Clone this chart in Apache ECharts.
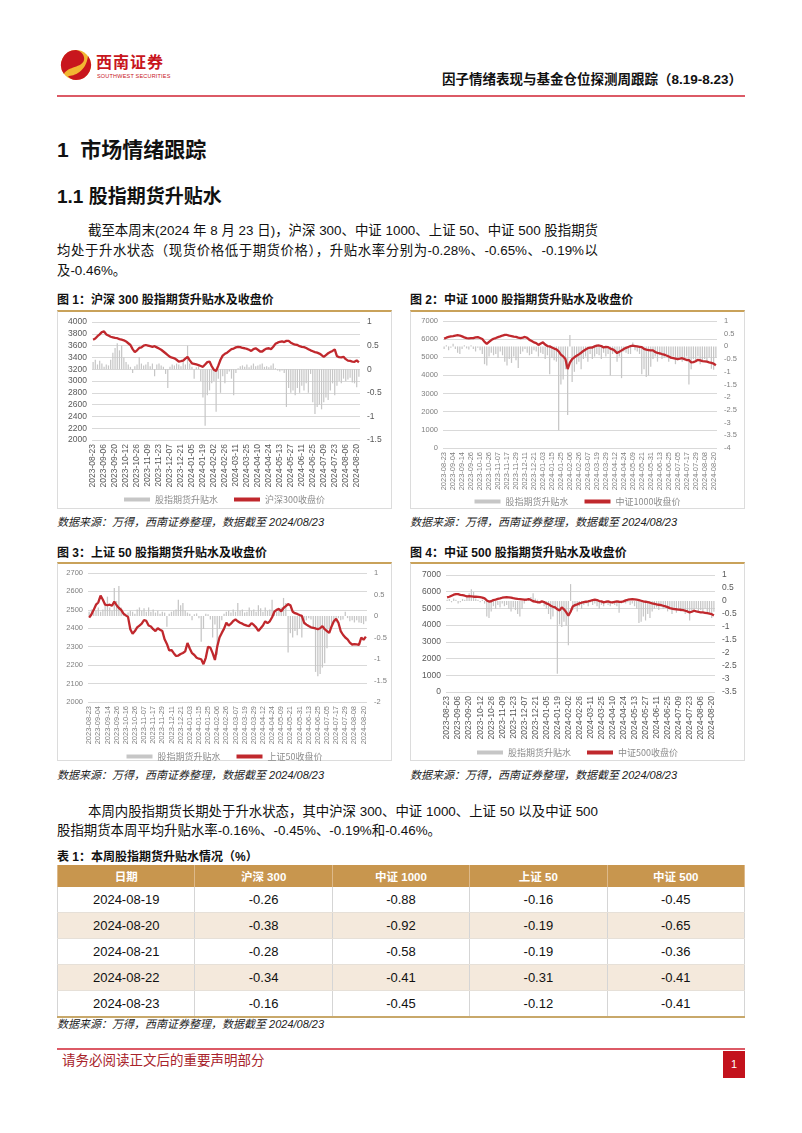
<!DOCTYPE html>
<html><head><meta charset="utf-8">
<script src="https://cdn.jsdelivr.net/npm/echarts@6/dist/echarts.min.js"></script>
<style>
html,body{margin:0;padding:0;background:#fff;}
body{width:802px;height:1133px;position:relative;overflow:hidden;font-family:"Liberation Sans","Noto Sans CJK SC",sans-serif;color:#111;}
.abs{position:absolute;white-space:nowrap;}
.figt{font-size:12px;font-weight:bold;line-height:14px;}
.src{font-size:11px;font-style:italic;color:#222;line-height:14px;}
.frame{position:absolute;border:1px solid #dcdcdc;border-top:2px solid #c9a25a;box-sizing:border-box;}
.chart{position:absolute;}
.body{font-size:13.4px;line-height:18px;}
.jl{text-align:justify;text-align-last:justify;}
table{border-collapse:collapse;table-layout:fixed;width:688px;font-size:13px;}
td,th{text-align:center;padding:0;border-left:1px solid #d5d5d5;border-right:1px solid #d5d5d5;}
th{background:#c8964e;color:#fff;height:22px;font-size:11.5px;font-weight:bold;border-left:1px solid #ddb98a;border-right:1px solid #ddb98a;}
td{height:25px;border-bottom:1px solid #e6e0d8;}
tr.alt td{background:#f4e9dc;}
tr.last td{border-bottom:2px solid #c8a86a;}
</style></head>
<body>
<!-- header -->
<svg class="abs" style="left:60px;top:48px" width="32" height="34" viewBox="0 0 32 34">
<circle cx="16" cy="17" r="15" fill="#f2b632"/>
<path d="M16 2 A15 15 0 0 0 4 26 C8 18 22 20 24 12 C25 7 21 3 16 2 Z" fill="#c8161d"/>
<path d="M28 8 A15 15 0 0 1 16 32 C12 32 9 30 8 28 C14 28 26 24 28 8 Z" fill="#c8161d"/>
</svg>
<div class="abs" style="left:96px;top:54px;font-size:16px;font-weight:bold;color:#c8161d;letter-spacing:1px;line-height:18px;">西南证券</div>
<div class="abs" style="left:97px;top:73px;font-size:5.5px;color:#c8161d;line-height:7px;letter-spacing:0.2px;">SOUTHWEST SECURITIES</div>
<div class="abs" style="right:60px;top:71px;font-size:13.5px;font-weight:bold;line-height:18px;">因子情绪表现与基金仓位探测周跟踪（8.19-8.23）</div>
<div class="abs" style="left:57px;top:95px;width:688px;height:2px;background:#dc5a66;"></div>

<div class="abs" style="left:57px;top:137px;font-size:21px;font-weight:bold;line-height:26px;">1&nbsp; 市场情绪跟踪</div>
<div class="abs" style="left:57px;top:185px;font-size:19px;font-weight:bold;line-height:24px;">1.1 股指期货升贴水</div>

<div class="abs body jl" style="left:88px;top:222px;width:510px;">截至本周末(2024 年 8 月 23 日)，沪深 300、中证 1000、上证 50、中证 500 股指期货</div>
<div class="abs body jl" style="left:57px;top:242px;width:541px;">均处于升水状态（现货价格低于期货价格），升贴水率分别为-0.28%、-0.65%、-0.19%以</div>
<div class="abs body" style="left:57px;top:262px;">及-0.46%。</div>

<!-- figure titles -->
<div class="abs figt" style="left:57px;top:293px;">图 1：沪深 300 股指期货升贴水及收盘价</div>
<div class="abs figt" style="left:410px;top:293px;">图 2：中证 1000 股指期货升贴水及收盘价</div>
<div class="frame" style="left:57px;top:310px;width:335px;height:199px;"></div>
<div class="frame" style="left:410px;top:310px;width:335px;height:199px;"></div>
<div id="c1" class="chart" style="left:57px;top:312px;width:335px;height:197px;"></div>
<div id="c2" class="chart" style="left:410px;top:312px;width:335px;height:197px;"></div>
<div class="abs src" style="left:57px;top:515px;">数据来源：万得，西南证券整理，数据截至 2024/08/23</div>
<div class="abs src" style="left:410px;top:515px;">数据来源：万得，西南证券整理，数据截至 2024/08/23</div>

<div class="abs figt" style="left:57px;top:546px;">图 3：上证 50 股指期货升贴水及收盘价</div>
<div class="abs figt" style="left:410px;top:546px;">图 4：中证 500 股指期货升贴水及收盘价</div>
<div class="frame" style="left:57px;top:562px;width:335px;height:199px;"></div>
<div class="frame" style="left:410px;top:562px;width:335px;height:199px;"></div>
<div id="c3" class="chart" style="left:57px;top:564px;width:335px;height:197px;"></div>
<div id="c4" class="chart" style="left:410px;top:564px;width:335px;height:197px;"></div>
<div class="abs src" style="left:57px;top:768px;">数据来源：万得，西南证券整理，数据截至 2024/08/23</div>
<div class="abs src" style="left:410px;top:768px;">数据来源：万得，西南证券整理，数据截至 2024/08/23</div>

<div class="abs body jl" style="left:88px;top:803px;width:510px;">本周内股指期货长期处于升水状态，其中沪深 300、中证 1000、上证 50 以及中证 500</div>
<div class="abs body" style="left:57px;top:822px;">股指期货本周平均升贴水率-0.16%、-0.45%、-0.19%和-0.46%。</div>

<div class="abs figt" style="left:57px;top:850px;">表 1：本周股指期货升贴水情况（%）</div>
<div class="abs" style="left:57px;top:865px;">
<table id="tbl"></table>
</div>
<div class="abs src" style="left:57px;top:1017px;">数据来源：万得，西南证券整理，数据截至 2024/08/23</div>

<!-- footer -->
<div class="abs" style="left:57px;top:1048px;width:688px;height:2px;background:#dc5a66;"></div>
<div class="abs" style="left:62px;top:1052px;font-size:13.5px;color:#a8232b;line-height:18px;">请务必阅读正文后的重要声明部分</div>
<div class="abs" style="left:723px;top:1051px;width:22px;height:27px;background:#c3121c;color:#fff;font-size:11px;line-height:27px;text-align:center;">1</div>

<script>
// ---------- data ----------
const ticksA = ['2023-08-23','2023-09-06','2023-09-20','2023-10-12','2023-10-26','2023-11-09','2023-11-23','2023-12-07','2023-12-21','2024-01-05','2024-01-19','2024-02-02','2024-02-26','2024-03-11','2024-03-25','2024-04-10','2024-04-24','2024-05-13','2024-05-27','2024-06-11','2024-06-25','2024-07-09','2024-07-23','2024-08-06','2024-08-20'];
const ticksB = ['2023-08-23','2023-09-04','2023-09-14','2023-09-26','2023-10-16','2023-10-26','2023-11-07','2023-11-17','2023-11-29','2023-12-11','2023-12-21','2024-01-03','2024-01-15','2024-01-25','2024-02-06','2024-02-26','2024-03-07','2024-03-19','2024-03-29','2024-04-12','2024-04-24','2024-05-09','2024-05-21','2024-05-31','2024-06-13','2024-06-25','2024-07-05','2024-07-17','2024-07-29','2024-08-08','2024-08-20'];

const hs300Close = [3700,3720,3760,3790,3830,3840,3790,3770,3750,3740,3730,3725,3710,3700,3690,3670,3640,3610,3540,3490,3520,3560,3570,3600,3610,3600,3590,3580,3590,3570,3550,3530,3500,3470,3440,3410,3395,3385,3360,3330,3335,3345,3380,3410,3350,3300,3290,3280,3270,3255,3240,3280,3320,3330,3250,3190,3170,3260,3360,3430,3460,3480,3510,3540,3550,3570,3580,3575,3560,3555,3545,3530,3510,3540,3555,3530,3500,3500,3530,3550,3555,3540,3580,3630,3650,3665,3670,3660,3680,3680,3650,3630,3615,3610,3590,3580,3575,3560,3540,3520,3505,3490,3480,3465,3440,3410,3440,3470,3490,3510,3535,3420,3405,3400,3410,3370,3345,3340,3330,3325,3350,3316];
const hs300Basis = [0.15,0.2,0.1,0.18,0.12,0.05,0.1,0.08,0.2,0.35,0.45,0.55,0.4,0.5,0.25,0.15,0.1,0.05,-0.08,0.06,0.1,0.26,0.12,0.08,0.1,0.15,0.06,0.12,-0.15,0.1,0.12,0.08,0.05,-0.1,-0.4,0.05,0.1,0.08,0.12,0.1,0.06,0.15,0.1,0.5,0.12,0.05,-0.2,0.04,0.06,-0.25,-0.6,-1.2,-0.55,-0.45,-0.3,-0.25,-0.9,-0.2,-0.5,-0.15,-0.3,-0.1,-0.05,-0.2,-0.55,-0.08,0.02,0.06,0.08,0.05,0.1,0.04,0.08,0.12,0.06,0.08,0.1,0.12,0.05,0.06,0.04,0.08,0.12,0.02,-0.03,-0.05,-0.03,-0.08,-0.8,-0.4,-0.5,-0.45,-0.55,-0.4,-0.5,-0.35,-0.45,-0.3,-0.5,-0.1,-0.7,-0.95,-0.8,-0.75,-0.85,-0.7,-0.6,-0.65,-0.45,-0.3,-0.55,-0.35,-0.25,-0.3,-0.2,-0.25,-0.22,-0.18,-0.28,-0.3,-0.38,-0.16];

const zz1000Close = [6030,6080,6120,6150,6170,6200,6220,6200,6150,6100,6060,6040,6060,6060,6100,6110,6060,6010,5850,5740,5850,5950,6020,6060,6110,6150,6200,6230,6230,6190,6170,6140,6120,6080,6050,6080,6120,6070,5960,5900,5820,5780,5680,5760,5820,5700,5620,5600,5540,5480,5440,5330,5150,5050,4900,4350,4700,4900,5000,5080,5160,5250,5350,5430,5500,5530,5540,5600,5640,5650,5620,5540,5570,5560,5480,5440,5360,5230,5300,5380,5450,5520,5570,5620,5640,5620,5600,5580,5560,5460,5420,5400,5380,5380,5290,5240,5220,5180,5150,5100,5040,4980,4960,4930,4900,4920,4950,4900,4850,4840,4720,4730,4780,4860,4830,4790,4780,4760,4720,4690,4650,4560];
const zz1000Basis = [-0.1,0.05,-0.15,-0.05,0.1,-0.1,-0.25,-0.3,-0.1,0.05,-0.08,-0.12,0.05,-0.1,-0.2,-0.05,-0.15,-0.3,-0.7,-0.75,-0.4,-0.25,-0.35,-0.3,-0.45,-0.2,-0.35,-0.6,-0.75,-0.5,-0.65,-0.4,-0.55,-0.85,-0.3,-0.2,-0.1,-0.25,-0.35,-0.3,-0.15,-0.2,-0.4,-0.25,-0.3,-0.5,-0.35,-1.1,-0.45,-0.55,-0.6,-3.3,-1.5,-1.3,-0.9,-2.7,0.45,-1.4,-1.0,-0.7,-0.6,-0.9,-0.5,-0.4,-0.6,-0.3,-0.5,-0.4,-0.3,-0.35,-0.5,-0.25,-0.4,-0.3,-1.15,-0.3,-0.25,-0.6,-0.4,-1.25,-0.2,-0.25,-0.3,-0.3,0.15,-0.15,-0.2,-0.3,-1.1,-0.9,-1.2,-1.15,-0.8,-0.5,-0.4,-0.6,-0.35,-0.5,-0.45,-0.3,-0.6,-0.5,-0.4,-0.7,-0.55,-0.45,-0.6,-0.5,-0.4,-1.5,-0.9,-0.5,-0.6,-0.4,-0.7,-0.55,-0.5,-0.6,-0.45,-0.88,-0.92,-0.45];

const sz50Close = [2458,2475,2500,2528,2540,2577,2555,2528,2525,2528,2522,2545,2525,2510,2500,2480,2470,2462,2395,2370,2385,2405,2415,2425,2445,2440,2415,2410,2395,2385,2400,2392,2385,2340,2315,2280,2282,2265,2250,2252,2260,2266,2275,2320,2290,2265,2255,2240,2235,2232,2205,2240,2300,2295,2265,2228,2300,2350,2375,2398,2430,2415,2425,2440,2448,2438,2430,2425,2418,2414,2412,2428,2418,2405,2386,2400,2415,2438,2428,2438,2460,2490,2500,2505,2492,2510,2520,2531,2525,2490,2482,2478,2472,2467,2430,2420,2412,2405,2402,2399,2395,2400,2412,2395,2385,2375,2410,2438,2452,2430,2385,2365,2350,2340,2322,2312,2314,2313,2310,2350,2338,2355];
const sz50Basis = [0.1,0.15,0.08,0.12,0.2,0.1,0.15,0.3,0.45,0.2,0.12,0.65,0.35,0.7,0.2,0.1,0.05,0.08,0.12,0.1,0.05,0.15,0.2,0.12,0.18,0.1,0.2,0.1,0.15,0.08,0.12,0.05,0.1,0.08,-0.25,0.05,0.1,0.12,0.15,0.38,0.25,0.3,0.12,0.08,0.05,-0.1,0.04,0.06,-0.05,-0.6,-0.3,0.05,0.04,-0.08,-0.5,-0.2,-0.9,-0.3,-0.1,0.05,0.1,0.12,0.08,0.15,0.1,0.3,0.12,0.15,0.08,0.1,0.2,0.12,0.15,0.1,0.25,0.18,0.1,0.2,0.12,0.15,0.38,0.12,0.1,0.15,0.2,0.42,0.3,-0.85,-0.4,-0.5,-0.35,-0.45,-0.3,-0.5,-0.2,-0.1,-0.05,-0.08,-0.3,-1.3,-1.4,-1.35,-1.2,-1.1,-0.75,-0.3,-0.2,-0.1,-0.15,-0.05,-0.1,-0.08,0.1,-0.05,-0.12,-0.1,-0.15,-0.1,-0.15,-0.16,-0.19,-0.12];

const zz500Close = [5660,5700,5760,5820,5860,5850,5810,5790,5760,5720,5730,5720,5700,5710,5690,5670,5650,5600,5480,5410,5430,5500,5530,5570,5600,5640,5660,5670,5660,5640,5610,5590,5570,5560,5540,5520,5530,5560,5500,5430,5410,5370,5360,5420,5380,5300,5260,5160,5100,5060,4950,4880,5060,4950,4780,4560,4800,5120,5200,5240,5300,5340,5370,5400,5420,5460,5500,5520,5500,5440,5420,5360,5400,5420,5380,5360,5390,5420,5400,5390,5420,5480,5520,5540,5560,5540,5520,5500,5460,5420,5400,5370,5340,5300,5280,5240,5220,5200,5160,5120,5080,5020,4990,4960,4950,4930,4920,4900,4860,4820,4760,4800,4860,4820,4790,4770,4760,4740,4720,4690,4660,4580];
const zz500Basis = [0.05,0.08,-0.05,0.1,0.05,-0.1,-0.05,0.08,0.05,0.2,0.3,0.45,0.35,0.1,0.05,-0.05,0.05,-0.1,-0.6,-0.65,-0.4,-0.2,-0.3,-0.15,-0.25,-0.1,-0.2,-0.15,-0.3,-0.4,-0.25,-0.35,-0.5,-0.6,-0.3,-0.1,0.05,0.1,0.15,0.3,0.1,0.05,-0.1,-0.05,-0.2,-0.3,-0.5,-0.7,-0.6,-0.3,-2.8,-0.9,-1.0,-0.8,-0.95,-1.7,0.65,-0.35,-0.25,-0.4,-0.2,-0.3,-0.15,-0.1,-0.2,-0.05,-0.15,-0.1,-0.2,-0.3,-0.15,-0.2,-0.1,-0.15,-0.2,-0.1,-0.15,-0.2,-0.45,-0.1,-0.05,-0.1,-0.05,-0.15,-0.1,-0.2,-0.3,-0.85,-0.8,-0.6,-0.75,-0.5,-0.65,-0.4,-0.3,-0.25,-0.35,-0.2,-0.3,-0.25,-0.4,-0.3,-0.5,-0.35,-0.45,-0.3,-0.4,-0.35,-0.5,-0.45,-0.75,-0.4,-0.35,-0.3,-0.45,-0.35,-0.4,-0.3,-0.45,-0.45,-0.65,-0.41];

const tableHead = ['日期','沪深 300','中证 1000','上证 50','中证 500'];
const tableDates = ['2024-08-19','2024-08-20','2024-08-21','2024-08-22','2024-08-23'];
const tHS300 = ['-0.26','-0.38','-0.28','-0.34','-0.16'];
const tZZ1000 = ['-0.88','-0.92','-0.58','-0.41','-0.45'];
const tSZ50 = ['-0.16','-0.19','-0.19','-0.31','-0.12'];
const tZZ500 = ['-0.45','-0.65','-0.36','-0.41','-0.41'];

// ---------- table ----------
(function(){
  let h = '<tr>' + tableHead.map(t=>'<th>'+t+'</th>').join('') + '</tr>';
  tableDates.forEach((d,i)=>{
    const cls = (i%2===1?'alt':'') + (i===tableDates.length-1?' last':'');
    h += '<tr class="'+cls+'"><td>'+d+'</td><td>'+tHS300[i]+'</td><td>'+tZZ1000[i]+'</td><td>'+tSZ50[i]+'</td><td>'+tZZ500[i]+'</td></tr>';
  });
  document.getElementById('tbl').innerHTML = h;
})();

// ---------- charts ----------
function buildCats(ticks, step){
  const c = [];
  ticks.forEach((t,k)=>{
    const n = k < ticks.length-1 ? step : 2;
    for (let j=0;j<n;j++) c.push(j===0 ? t : t+'#'+j);
  });
  return c;
}
function makeChart(id, cfg){
  const cats = buildCats(cfg.ticks, cfg.step);
  if (cats.length !== cfg.line.length || cats.length !== cfg.bars.length)
    throw new Error(id+' length mismatch '+cats.length+' '+cfg.line.length+' '+cfg.bars.length);
  const ch = echarts.init(document.getElementById(id));
  const lab = {fontSize: cfg.fs, color: cfg.lc, fontFamily:'Liberation Sans'};
  const plain = v => String(v);
  ch.setOption({
    animation:false,
    textStyle:{fontFamily:'"Liberation Sans","Noto Sans CJK SC"'},
    grid:{left:cfg.grid[0], right:cfg.grid[1], top:cfg.grid[2], bottom:cfg.grid[3]},
    legend:{top:cfg.legTop, left:'center', itemWidth:26, itemHeight:4, itemGap:16,
      textStyle:{fontSize:9, color:'#8c8c8c', fontFamily:'"Noto Sans CJK SC"'},
      data:[{name:cfg.barName, icon:'rect'}, {name:cfg.lineName, icon:'rect'}]},
    xAxis:{type:'category', data:cats,
      axisLine:{show:false}, axisTick:{show:false},
      axisLabel:Object.assign({rotate:90, interval:cfg.step-1, margin:4,
        formatter:v=>v.indexOf('#')<0?v:''}, lab)},
    yAxis:[
      {type:'value', min:cfg.left[0], max:cfg.left[1], interval:cfg.left[2],
       axisLine:{show:false}, axisTick:{show:false}, axisLabel:Object.assign({margin:5, formatter:plain}, lab),
       splitLine:{lineStyle:{color:'#d9d9d9', width:1}}},
      {type:'value', position:'right', min:cfg.right[0], max:cfg.right[1], interval:cfg.right[2],
       axisLine:{show:false}, axisTick:{show:false}, axisLabel:Object.assign({margin:7, formatter:plain}, lab),
       splitLine:{show:false}}
    ],
    series:[
      {type:'bar', name:cfg.barName, yAxisIndex:1, data:cfg.bars, barWidth:'55%',
       itemStyle:{color:'#c6c6c6'}},
      {type:'line', name:cfg.lineName, yAxisIndex:0, data:cfg.line, symbol:'none',
       lineStyle:{color:'#c0282d', width:2.3}, itemStyle:{color:'#c0282d'}}
    ]
  });
}
makeChart('c1',{ticks:ticksA, step:5, line:hs300Close, bars:hs300Basis,
  barName:'股指期货升贴水', lineName:'沪深300收盘价',
  left:[2000,4000,200], right:[-1.5,1,0.5], grid:[35,32,10,69], legTop:178, fs:8.5, lc:'#595959'});
makeChart('c2',{ticks:ticksB, step:4, line:zz1000Close, bars:zz1000Basis,
  barName:'股指期货升贴水', lineName:'中证1000收盘价',
  left:[0,7000,1000], right:[-4,1,0.5], grid:[33,28,9,61], legTop:180, fs:7.5, lc:'#7f7f7f'});
makeChart('c3',{ticks:ticksB, step:4, line:sz50Close, bars:sz50Basis,
  barName:'股指期货升贴水', lineName:'上证50收盘价',
  left:[2000,2700,100], right:[-2,1,0.5], grid:[31,25,9,59], legTop:183, fs:7.5, lc:'#7f7f7f'});
makeChart('c4',{ticks:ticksA, step:5, line:zz500Close, bars:zz500Basis,
  barName:'股指期货升贴水', lineName:'中证500收盘价',
  left:[0,7000,1000], right:[-3.5,1,0.5], grid:[36,30,11,69], legTop:179, fs:8.5, lc:'#595959'});
</script>
</body></html>
